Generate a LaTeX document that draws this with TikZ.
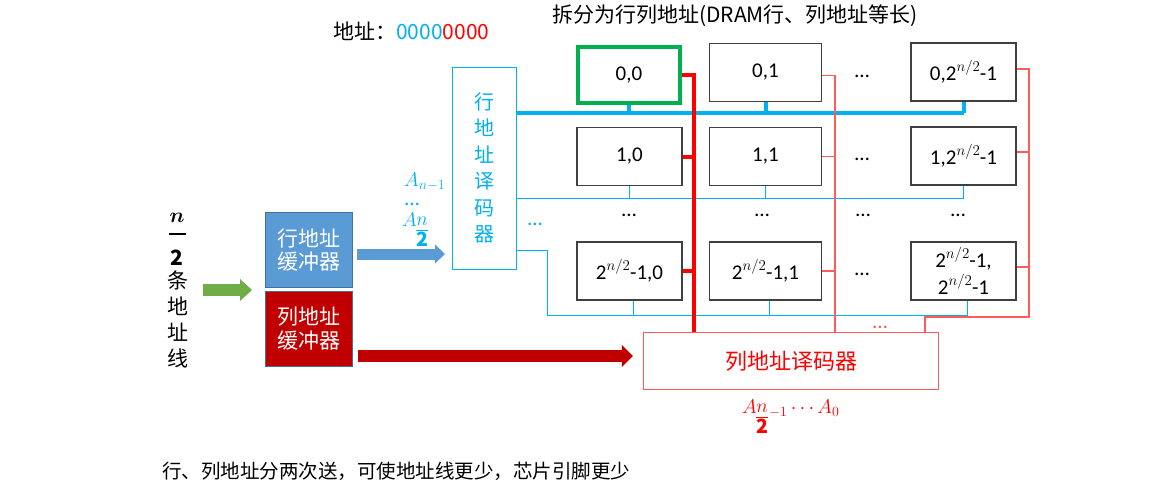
\RequirePackage{fix-cm}
\documentclass[tikz,border=0pt]{standalone}
\usepackage{amsmath}
\usepackage{fontspec}
\setmainfont{Noto Sans CJK SC}
\newfontfamily\cellfont{Carlito}
\usetikzlibrary{arrows.meta,calc,positioning}
\definecolor{lblue}{HTML}{00B0F0}
\definecolor{lred}{HTML}{FF5B5B}
\definecolor{rowbuf}{HTML}{5B9BD5}
\definecolor{colbuf}{HTML}{C00000}
\definecolor{bufline}{HTML}{41719C}
\definecolor{garrow}{HTML}{70AD47}
\definecolor{cgreen}{HTML}{00B050}
\newcommand{\pw}{\raisebox{0.42em}{\fontsize{15}{15}\selectfont$n/2$}}
\newcommand{\halfn}{\raisebox{-11pt}{\fontsize{28}{30}\selectfont$\genfrac{}{}{}{1}{n}{\mathbf{2}}$}}
\tikzset{
  txt/.style={inner sep=0, font={\fontsize{21}{26}\selectfont}},
  cell/.style={draw=black!75, line width=1.2pt, minimum width=105pt, minimum height=58pt, inner sep=0, font={\cellfont\fontsize{21}{27}\selectfont}},
  dotsmark/.style={inner sep=0, anchor=base, font={\cellfont\fontsize{21}{24}\selectfont}},
  buf/.style={draw=bufline, line width=1pt, minimum width=87pt, minimum height=75pt, text=white, align=center, font={\fontsize{21}{23.5}\selectfont}},
  mathlbl/.style={inner sep=0, font={\fontsize{20}{24}\selectfont}},
  thinblue/.style={draw=lblue, line width=1pt},
  thickblue/.style={draw=lblue, line width=4pt},
  thinred/.style={draw=lred, line width=1.2pt},
  thickred/.style={draw=red, line width=4pt},
}
\begin{document}
\begin{tikzpicture}[x=1pt,y=-1pt]
  \useasboundingbox (0,0) rectangle (1175,491);
  % titles
  \node[txt, anchor=west] (addr) at (333,31) {地址：\textcolor{lblue}{0000}\textcolor{red}{0000}};
  \node[txt, anchor=west] (split) at (552,16) {拆分为行列地址(DRAM行、列地址等长)};
  % memory cells
  \node[cell, draw=cgreen, line width=4pt, minimum width=102pt, minimum height=56pt] (c00) at (629,75) {0,0};
  \node[cell, minimum width=112pt] (c01) at (765.5,72.5) {0,1};
  \node[cell] (c0k) at (963.5,72) {0,2\pw-1};
  \node[cell] (c10) at (629.5,156.5) {1,0};
  \node[cell, minimum width=112pt] (c11) at (765.5,156.5) {1,1};
  \node[cell] (c1k) at (963.5,156) {1,2\pw-1};
  \node[cell] (cm0) at (629.5,271) {2\pw-1,0};
  \node[cell, minimum width=112pt] (cm1) at (765.5,271) {2\pw-1,1};
  \node[cell, align=center] (cmk) at (963.5,271) {2\pw-1,\\2\pw-1};
  % dots
  \node[dotsmark] (d0) at (862,77) {…};
  \node[dotsmark] (d1) at (862,160) {…};
  \node[dotsmark] (d2) at (862,275) {…};
  \node[dotsmark] (e0) at (629,216) {…};
  \node[dotsmark] (e1) at (762,216) {…};
  \node[dotsmark] (e2) at (863,216) {…};
  \node[dotsmark] (e3) at (958,216) {…};
  \node[dotsmark, text=lblue] (eb) at (535,225) {…};
  \node[dotsmark, text=lred] (er) at (880,328) {…};
  % decoders
  \node[draw=lblue, line width=1pt, minimum width=64pt, minimum height=202pt, align=center, text=lblue, font={\fontsize{20}{26.5}\selectfont}] (rdec) at (484.5,168) {行\\地\\址\\译\\码\\器};
  \node[draw=lred, line width=1.2pt, minimum width=295pt, minimum height=57pt, text=red, font={\fontsize{22}{26}\selectfont}] (cdec) at (791,361) {列地址译码器};
  % buffers
  \node[buf, fill=rowbuf] (rbuf) at (309,250) {行地址\\缓冲器};
  \node[buf, fill=colbuf] (cbuf) at (309,328.5) {列地址\\缓冲器};
  % address lines
  \node[inner sep=0, align=center, font={\fontsize{21}{12}\selectfont}] (half) at (177,239.5) {$\boldsymbol{n}$\\\rule{17pt}{1.6pt}\\[14pt]$\mathbf{2}$};
  \node[inner sep=0, align=center, font={\fontsize{21}{26}\selectfont}] (lines) at (178,319) {条\\地\\址\\线};
  % address bits
  \node[mathlbl, anchor=base west, text=lblue] (an1) at (404,186) {$A_{n-1}$};
  \node[dotsmark, text=lblue] (adots) at (412,205) {…};
  \node[mathlbl, anchor=base west, text=lblue] (an2) at (402,226) {$A$\kern-2pt\halfn};
  \node[mathlbl, anchor=base west, text=red] (a0) at (742,413) {$A$\kern-2pt\halfn$_{-1}\cdots A_0$};
  % note
  \node[inner sep=0, anchor=west, font={\fontsize{19.5}{24}\selectfont}] (note) at (162,471) {行、列地址分两次送，可使地址线更少，芯片引脚更少};
  % row lines
  \coordinate (rb0) at (517,113);
  \coordinate (rb1) at (517,198);
  \coordinate (rbm) at (547,250);
  \coordinate (rbm2) at (547,315);
  \draw[thickblue] (rdec.east |- rb0) -- (c0k.south |- rb0);
  \foreach \c in {c00,c01,c0k} \draw[thickblue] (\c.south) -- (\c.south |- rb0);
  \draw[thinblue] (rdec.east |- rb1) -- (c1k.south |- rb1);
  \foreach \c in {c10,c11,c1k} \draw[thinblue] (\c.south) -- (\c.south |- rb1);
  \draw[thinblue] (rdec.east |- rbm) -- (rbm) -- (rbm2) -- ([xshift=4pt]cmk.south |- rbm2);
  \foreach \c in {cm0,cm1,cmk} \draw[thinblue] ([xshift=4pt]\c.south) -- ([xshift=4pt]\c.south |- rbm2);
  % column lines
  \coordinate (kb0) at (694,0);
  \coordinate (kb1) at (835,0);
  \coordinate (kb3) at (1029,317);
  \coordinate (kb3b) at (925,317);
  \draw[thickred] (c00.east) -- (c00.east -| kb0) -- (cdec.north -| kb0);
  \foreach \c in {c10,cm0} \draw[thickred] (\c.east) -- (\c.east -| kb0);
  \draw[thinred] ([yshift=-3pt]c01.east) -- ([yshift=-3pt]c01.east -| kb1) -- (cdec.north -| kb1);
  \foreach \c in {c11,cm1} \draw[thinred] (\c.east) -- (\c.east -| kb1);
  \draw[thinred] ([yshift=3pt]c0k.east) -- ([yshift=3pt]c0k.east -| kb3) -- (kb3) -- (kb3b) -- (cdec.north -| kb3b);
  \foreach \c in {c1k,cmk} \draw[thinred] ([yshift=4pt]\c.east) -- ([yshift=4pt]\c.east -| kb3);
  % block arrows
  \coordinate (ga) at (203,290);
  \coordinate (ba) at (357,254);
  \coordinate (ca) at (358,356);
  \draw[draw=garrow, line width=12pt, -{Triangle[length=12pt,width=22pt,line width=0pt]}] (ga) -- ([xshift=-13pt]rbuf.west |- ga);
  \draw[draw=rowbuf, line width=11pt, -{Triangle[length=10pt,width=19pt,line width=0pt]}] (ba) -- ([xshift=-7pt]rdec.west |- ba);
  \draw[draw=colbuf, line width=12pt, -{Triangle[length=11pt,width=22pt,line width=0pt]}] (ca) -- ([xshift=-10pt]cdec.west |- ca);
\end{tikzpicture}
\end{document}
